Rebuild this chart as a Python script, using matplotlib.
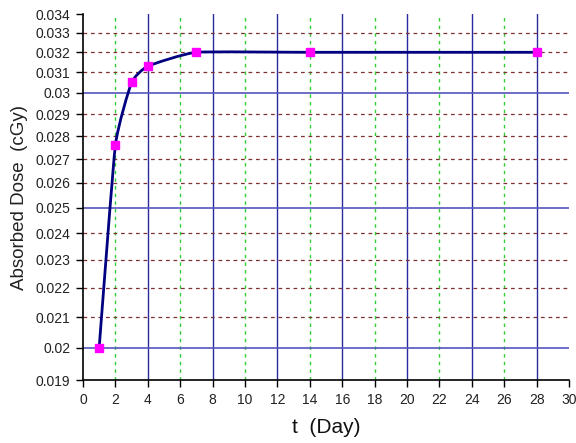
import numpy as np
import matplotlib
matplotlib.use("Agg")
import matplotlib.pyplot as plt
from matplotlib.path import Path
from matplotlib.patches import PathPatch
from matplotlib.ticker import FixedLocator, FuncFormatter, NullFormatter

plt.rcParams['font.family'] = ['Liberation Sans', 'DejaVu Sans']

# data
days = [1, 2, 3, 4, 7, 14, 28]
dose = [0.0200, 0.0276, 0.0305, 0.0313, 0.0320, 0.0320, 0.0320]

xticks = list(range(0, 31, 2))
yticks = [0.019, 0.020, 0.021, 0.022, 0.023, 0.024, 0.025, 0.026, 0.027,
          0.028, 0.029, 0.030, 0.031, 0.032, 0.033, 0.034]

fig = plt.figure(figsize=(5.76, 4.43), dpi=100)
ax = fig.add_axes([0.144, 0.142, 0.844, 0.826])
ax.set_yscale('log')
ax.set_xlim(0, 30)
ax.set_ylim(0.019, 0.034)

# grid: blue solid majors, green / brown dashed minors
for x in xticks[1:-1]:
    if x % 4 == 0:
        ax.axvline(x, color='#2a2aa0', lw=1.0, zorder=1)
    else:
        ax.axvline(x, color='#33cc33', lw=1.0, ls=(0, (2.5, 3)), zorder=1)
for y in yticks[1:-1]:
    if round(y * 1000) % 5 == 0:
        ax.axhline(y, color='#5555c0', lw=1.2, zorder=1)
    else:
        ax.axhline(y, color='#803030', lw=0.9, ls=(0, (3, 3)), zorder=1)

# lightly smoothed line (bezier, computed in x / log-y space)
smooth = 1.0 / 14
px = np.array(days, dtype=float)
py = np.log10(np.array(dose))
pts = np.column_stack([px, py])
verts = [pts[0]]
codes = [Path.MOVETO]
n = len(pts)
for i in range(n - 1):
    p0 = pts[i - 1] if i > 0 else pts[i]
    p1 = pts[i]
    p2 = pts[i + 1]
    p3 = pts[i + 2] if i + 2 < n else pts[i + 1]
    c1 = p1 + (p2 - p0) * smooth
    c2 = p2 - (p3 - p1) * smooth
    verts += [c1, c2, p2]
    codes += [Path.CURVE4] * 3
verts = np.array(verts)
verts[:, 1] = 10 ** verts[:, 1]
ax.add_patch(PathPatch(Path(verts, codes), fill=False, edgecolor='#000080',
                       lw=2.0, zorder=3))
ax.plot(days, dose, ls='none', marker='s', ms=6, mfc='#ff00ff',
        mec='#ff00ff', zorder=4)

ax.yaxis.set_major_locator(FixedLocator(yticks))
ax.yaxis.set_minor_formatter(NullFormatter())
ax.yaxis.set_minor_locator(FixedLocator([]))
ax.yaxis.set_major_formatter(FuncFormatter(lambda v, p: '%g' % round(v, 3)))
ax.set_xticks(xticks)

for s in ['top', 'right']:
    ax.spines[s].set_visible(False)
for s in ['left', 'bottom']:
    ax.spines[s].set_color('black')
    ax.spines[s].set_linewidth(1.2)
ax.tick_params(axis='both', direction='out', length=5, width=1,
               labelsize=10, labelcolor='#222222', pad=4)

ax.set_ylabel('Absorbed Dose  (cGy)', fontsize=13.5, color='#222222', labelpad=5)
ax.set_xlabel('t  (Day)', fontsize=15, color='#111111', labelpad=8)

fig.savefig('out.png', dpi=100)
